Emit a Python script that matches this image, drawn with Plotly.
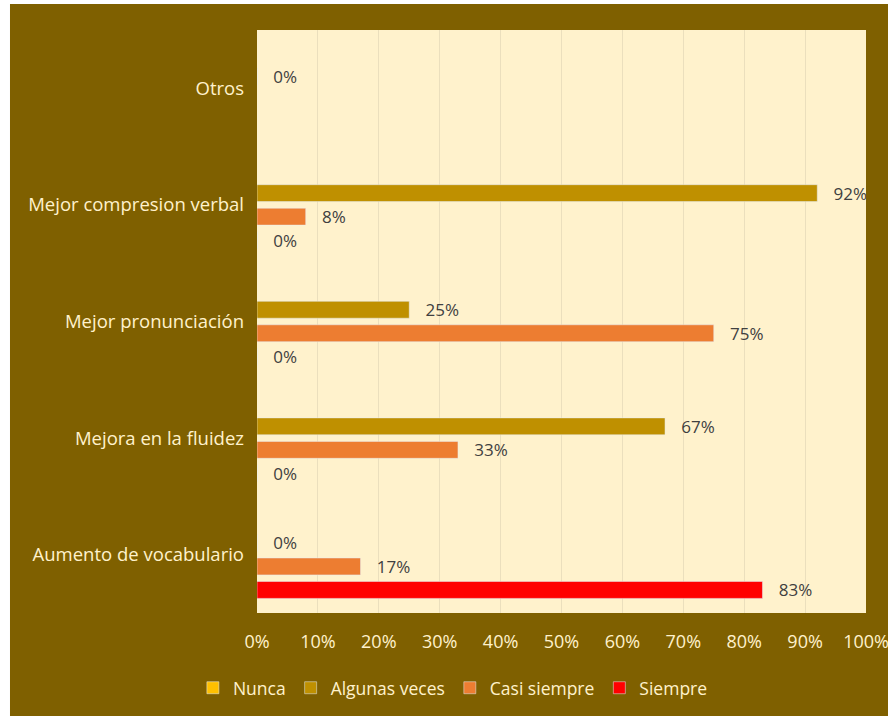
import plotly.graph_objects as go

# Categories listed top to bottom
categorias = [
    "Otros",
    "Mejor compresion verbal",
    "Mejor pronunciación",
    "Mejora en la fluidez",
    "Aumento de vocabulario",
]

# Share of answers per category (None = no answer recorded)
nunca = [None, None, None, None, None]
algunas_veces = [0.0, 0.92, 0.25, 0.67, 0.0]
casi_siempre = [None, 0.08, 0.75, 0.33, 0.17]
siempre = [None, 0.0, 0.0, 0.0, 0.83]

series = [
    ("Nunca", nunca, "#ffc000"),
    ("Algunas veces", algunas_veces, "#bf9000"),
    ("Casi siempre", casi_siempre, "#ed7d31"),
    ("Siempre", siempre, "#ff0000"),
]

x_ticks = [i / 10 for i in range(11)]

BROWN = "#7f6000"
CREAM = "#fff2cc"
FONT = "Open Sans"


def etiquetas(vals):
    # value labels only where an answer exists
    return ["\u00a0\u00a0\u00a0" + format(v, ".0%") if v is not None else "" for v in vals]


fig = go.Figure()
for name, vals, color in series:
    fig.add_trace(go.Bar(
        name=name,
        y=categorias,
        x=vals,
        orientation="h",
        marker=dict(color=color),
        text=etiquetas(vals),
        texttemplate="%{text}",
        textposition="outside",
        constraintext="none",
        textfont=dict(family=FONT, size=17, color="#404040"),
        cliponaxis=True,
        hoverinfo="x+name",
    ))

fig.update_layout(
    width=888,
    height=718,
    barmode="group",
    bargap=0.194,
    bargroupgap=0.28,
    paper_bgcolor=BROWN,
    plot_bgcolor=CREAM,
    margin=dict(l=257, r=22, t=30, b=105, autoexpand=False),
    font=dict(family=FONT, size=18, color=CREAM),
    showlegend=True,
    legend=dict(
        orientation="h",
        xref="container", yref="container",
        x=0.51, xanchor="center",
        y=0.042, yanchor="middle",
        font=dict(family=FONT, size=17.5, color=CREAM),
        bgcolor="rgba(0,0,0,0)",
        itemwidth=30,
        tracegroupgap=0,
    ),
    xaxis=dict(
        range=[0, 1],
        tickvals=x_ticks,
        tickformat=".0%",
        showgrid=True,
        gridcolor="#ebdfbd",
        gridwidth=1,
        zeroline=False,
        showline=False,
        ticks="",
        ticklen=0,
        ticklabelstandoff=16,
        ticklabeloverflow="allow",
        automargin=False,
        tickfont=dict(family=FONT, size=18, color=CREAM),
        fixedrange=True,
    ),
    yaxis=dict(
        categoryorder="array",
        categoryarray=categorias,
        autorange="reversed",
        showgrid=False,
        zeroline=False,
        showline=False,
        ticks="",
        ticklabelstandoff=12,
        automargin=False,
        tickfont=dict(family=FONT, size=18.5, color=CREAM),
        fixedrange=True,
    ),
    shapes=[
        # thin white margins around the brown frame
        dict(type="rect", xref="paper", yref="paper",
             x0=-0.43, x1=-0.4056, y0=-0.2, y1=1.1,
             fillcolor="white", line=dict(width=0), layer="below"),
        dict(type="rect", xref="paper", yref="paper",
             x0=-0.43, x1=1.1, y0=1.0446, y1=1.1,
             fillcolor="white", line=dict(width=0), layer="below"),
        dict(type="rect", xref="paper", yref="paper",
             x0=-0.43, x1=1.1, y0=-0.2, y1=-0.1767,
             fillcolor="white", line=dict(width=0), layer="below"),
    ],
)

fig.write_html("out.html")
